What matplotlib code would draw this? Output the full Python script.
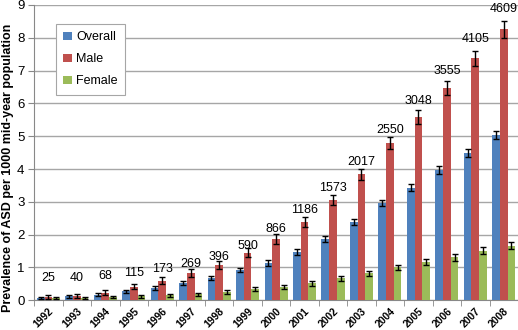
import matplotlib.pyplot as plt
import numpy as np

plt.rcParams['font.family'] = ['Liberation Sans', 'DejaVu Sans']

years = [str(y) for y in range(1992, 2009)]
overall = [0.08, 0.12, 0.17, 0.27, 0.37, 0.52, 0.68, 0.92, 1.14, 1.47, 1.87, 2.38, 2.96, 3.43, 3.97, 4.49, 5.04]
male = [0.10, 0.13, 0.23, 0.42, 0.60, 0.83, 1.07, 1.45, 1.87, 2.38, 3.06, 3.84, 4.79, 5.58, 6.47, 7.38, 8.26]
female = [0.07, 0.08, 0.10, 0.12, 0.15, 0.18, 0.26, 0.35, 0.40, 0.52, 0.67, 0.82, 1.00, 1.16, 1.31, 1.51, 1.66]
overall_err = [0.03, 0.04, 0.04, 0.05, 0.06, 0.06, 0.07, 0.07, 0.08, 0.08, 0.09, 0.09, 0.10, 0.10, 0.11, 0.11, 0.12]
male_err = [0.05, 0.06, 0.07, 0.09, 0.10, 0.11, 0.12, 0.14, 0.15, 0.15, 0.16, 0.17, 0.18, 0.22, 0.22, 0.23, 0.26]
female_err = [0.03, 0.03, 0.04, 0.04, 0.05, 0.05, 0.06, 0.06, 0.06, 0.07, 0.07, 0.08, 0.09, 0.09, 0.10, 0.10, 0.11]
counts = [25, 40, 68, 115, 173, 269, 396, 590, 866, 1186, 1573, 2017, 2550, 3048, 3555, 4105, 4609]
count_y = [0.68, 0.69, 0.74, 0.84, 0.94, 1.10, 1.32, 1.65, 2.16, 2.74, 3.42, 4.20, 5.18, 6.07, 6.98, 7.96, 8.87]

fig = plt.figure(figsize=(5.18, 3.30), dpi=100)
ax = fig.add_axes([0.066, 0.09, 0.934, 0.895])

x = np.arange(len(years))
w = 0.27
err_kw = dict(ecolor='black', elinewidth=1.0, capsize=2, capthick=1.0)
ax.bar(x - w, overall, w, yerr=overall_err, color='#4F81BD', label='Overall', error_kw=err_kw, zorder=3)
ax.bar(x, male, w, yerr=male_err, color='#C0504D', label='Male', error_kw=err_kw, zorder=3)
ax.bar(x + w, female, w, yerr=female_err, color='#9BBB59', label='Female', error_kw=err_kw, zorder=3)

for xi, c, yi in zip(x, counts, count_y):
    ax.text(xi, yi, str(c), ha='center', va='center', fontsize=9, zorder=4)

ax.set_xlim(-0.5, len(years) - 0.5)
ax.set_ylim(0, 9)
ax.set_yticks(range(0, 10))
ax.yaxis.grid(True, color='#A6A6A6', linewidth=1.0, zorder=0)
ax.set_axisbelow(True)

ax.set_xticks(x)
ax.set_xticklabels(years, rotation=45, ha='right', rotation_mode='anchor',
                   fontsize=7.5, fontweight='bold')
ax.set_xticks(np.arange(-0.5, len(years), 1), minor=True)
ax.tick_params(axis='x', which='major', length=0, pad=4)
ax.tick_params(axis='x', which='minor', length=4, color='#888888')
ax.tick_params(axis='y', length=4, color='#888888', labelsize=9.5, pad=3)

for s in ['top', 'right']:
    ax.spines[s].set_visible(False)
ax.spines['left'].set_color('#888888')
ax.spines['bottom'].set_color('#888888')

ax.set_ylabel('Prevalence of ASD per 1000 mid-year population', fontsize=9,
              fontweight='bold')
ax.yaxis.set_label_coords(-0.042, 0.45)

leg = ax.legend(loc='upper left', bbox_to_anchor=(0.045, 0.936), fontsize=9,
                handlelength=0.7, handleheight=0.7, handletextpad=0.3,
                labelspacing=0.8, borderpad=0.6, borderaxespad=0,
                fancybox=False, framealpha=1)
leg.get_frame().set_edgecolor('#A6A6A6')
leg.get_frame().set_linewidth(0.8)

fig.savefig('out.png', dpi=100)
